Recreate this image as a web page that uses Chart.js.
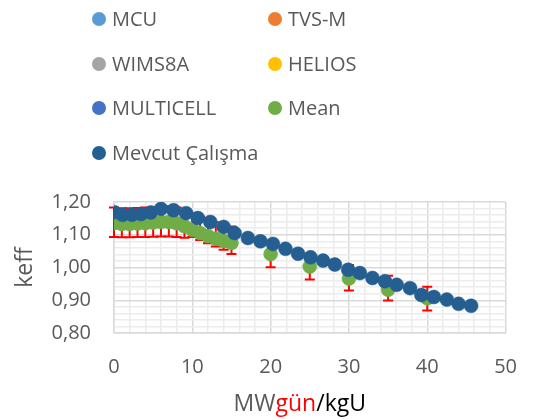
<!DOCTYPE html>
<html>
<head>
<meta charset="utf-8">
<script src="https://cdn.jsdelivr.net/npm/chart.js@4.4.1/dist/chart.umd.min.js"></script>
<style>
  html, body { margin: 0; padding: 0; background: #ffffff; }
  #wrap { position: relative; width: 539px; height: 419px; }
  #chart { position: absolute; left: 0; top: 0; }
  #legend { position: absolute; left: 0; top: 0; width: 539px; height: 180px;
            font-family: 'Open Sans', sans-serif; font-size: 20px; color: #595959; }
  .item { position: absolute; display: flex; align-items: center; height: 26px;
          line-height: 26px; white-space: nowrap; }
  .dot { width: 14px; height: 14px; border-radius: 50%; margin-right: 6px; flex: none; }
</style>
</head>
<body>
<div id="wrap">
  <canvas id="chart" width="539" height="419"></canvas>
  <div id="legend"></div>
</div>
<script>
// Series shown in the legend, in order
const seriesNames = ['MCU', 'TVS-M', 'WIMS8A', 'HELIOS', 'MULTICELL', 'Mean', 'Mevcut Çalışma'];
const seriesColors = ['#5B9BD5', '#ED7D31', '#A5A5A5', '#FFC000', '#4472C4', '#70AD47', '#255E91'];

// Benchmark mean k-eff with spread of the codes (burnup in MWgün/kgU)
const meanBurnup = [0, 1, 2, 3, 4, 5, 6, 7, 8, 9, 10, 11, 12, 13, 14, 15, 20, 25, 30, 35, 40];
const meanKeff   = [1.135, 1.133, 1.133, 1.134, 1.135, 1.137, 1.139, 1.139, 1.135, 1.126, 1.115,
                    1.105, 1.096, 1.088, 1.081, 1.075, 1.041, 1.003, 0.966, 0.932, 0.906];
const errPlus    = [0.048, 0.048, 0.048, 0.048, 0.048, 0.048, 0.048, 0.048, 0.048, 0.048, 0.050,
                    0.050, 0.050, 0.050, 0.050, 0.050, 0.040, 0.040, 0.042, 0.043, 0.035];
const errMinus   = [0.042, 0.041, 0.041, 0.041, 0.042, 0.043, 0.044, 0.044, 0.042, 0.035, 0.022,
                    0.021, 0.022, 0.024, 0.027, 0.034, 0.040, 0.040, 0.036, 0.033, 0.037];

// Present calculation
const calcBurnup = [0, 1.1, 2.3, 3.45, 4.7, 6.0, 7.6, 9.2, 10.7, 12.3, 14.0, 15.4, 17.1, 18.7, 20.3,
                    21.9, 23.5, 25.1, 26.7, 28.2, 29.9, 31.4, 33.0, 34.6, 36.1, 37.8, 39.25, 40.85,
                    42.5, 44.0, 45.6];
const calcKeff   = [1.169, 1.161, 1.161, 1.163, 1.168, 1.179, 1.175, 1.166, 1.151, 1.139, 1.124,
                    1.105, 1.090, 1.080, 1.072, 1.057, 1.042, 1.031, 1.021, 1.009, 0.993, 0.983,
                    0.968, 0.958, 0.947, 0.937, 0.916, 0.910, 0.902, 0.889, 0.883];

// Axis ranges and titles
const xMin = 0, xMax = 50, xMinorStep = 2, xMajorStep = 10;
const yMin = 0.8, yMax = 1.2, yMinorStep = 0.02;
const yTitle = 'keff';
const xTitleParts = [['MW', '#595959'], ['gün', '#FF0000'], ['/kgU', '#000000']];

const MAJOR = '#d9d9d9', MINOR = '#ececec', TEXT = '#595959';
const FONT = "'Open Sans', sans-serif";

const toPoints = (xs, ys) => xs.map((x, i) => ({ x: x, y: ys[i] }));
const isMajorY = v => Math.abs(v * 10 - Math.round(v * 10)) < 1e-6;
const isMajorX = v => Math.abs(v / xMajorStep - Math.round(v / xMajorStep)) < 1e-6;

const datasets = seriesNames.map((name, i) => ({
  label: name,
  data: [],
  backgroundColor: seriesColors[i],
  borderColor: seriesColors[i],
  pointRadius: 7,
  pointBorderWidth: 0.5,
  showLine: false,
  order: 5
}));
const MEAN = 5, CALC = 6;
datasets[MEAN].data = toPoints(meanBurnup, meanKeff);
datasets[MEAN].order = 1;
datasets[CALC].data = toPoints(calcBurnup, calcKeff);
datasets[CALC].order = 0;

// Red error bars of the mean, drawn just beneath its markers
const errorBars = {
  id: 'errorBars',
  beforeDatasetDraw(chart, args) {
    if (args.index !== MEAN) return;
    const { ctx, scales: { x, y } } = chart;
    ctx.save();
    ctx.strokeStyle = '#FF0000';
    ctx.lineWidth = 2;
    meanBurnup.forEach((b, i) => {
      const px = x.getPixelForValue(b);
      const hi = y.getPixelForValue(meanKeff[i] + errPlus[i]);
      const lo = y.getPixelForValue(meanKeff[i] - errMinus[i]);
      ctx.beginPath();
      ctx.moveTo(px, hi); ctx.lineTo(px, lo);
      ctx.moveTo(px - 5, hi); ctx.lineTo(px + 5, hi);
      ctx.moveTo(px - 5, lo); ctx.lineTo(px + 5, lo);
      ctx.stroke();
    });
    ctx.restore();
  }
};

// Multi-coloured x-axis title
const xAxisTitle = {
  id: 'xAxisTitle',
  afterDraw(chart) {
    const { ctx, chartArea } = chart;
    ctx.save();
    ctx.font = '23px ' + FONT;
    ctx.textBaseline = 'alphabetic';
    ctx.textAlign = 'left';
    const total = xTitleParts.reduce((s, p) => s + ctx.measureText(p[0]).width, 0);
    let cx = (chartArea.left + chartArea.right) / 2 - 10 - total / 2;
    xTitleParts.forEach(([t, c]) => {
      ctx.fillStyle = c;
      ctx.fillText(t, cx, 411);
      cx += ctx.measureText(t).width;
    });
    ctx.restore();
  }
};

const chart = new Chart(document.getElementById('chart'), {
  type: 'scatter',
  data: { datasets: datasets },
  plugins: [errorBars, xAxisTitle],
  options: {
    responsive: false,
    animation: false,
    layout: { padding: { top: 202, right: 19, left: 0, bottom: 0 } },
    plugins: { legend: { display: false }, tooltip: { enabled: false } },
    scales: {
      x: {
        type: 'linear', min: xMin, max: xMax,
        afterFit(scale) { scale.height = 86; },
        ticks: {
          stepSize: xMinorStep, autoSkip: false, maxRotation: 0, padding: 22,
          color: TEXT, font: { family: FONT, size: 20 },
          callback: v => isMajorX(v) ? String(Math.round(v)) : ''
        },
        grid: {
          drawTicks: false, lineWidth: 1.5,
          color: c => (c.tick && isMajorX(c.tick.value)) ? MAJOR : MINOR
        },
        border: { color: MAJOR, width: 1.5 }
      },
      y: {
        type: 'linear', min: yMin, max: yMax,
        afterFit(scale) { scale.width = 114; },
        ticks: {
          stepSize: yMinorStep, maxTicksLimit: 40, autoSkip: false, padding: 23,
          color: TEXT, font: { family: FONT, size: 20 },
          callback: v => isMajorY(v) ? v.toFixed(2).replace('.', ',') : ''
        },
        grid: {
          drawTicks: false, lineWidth: 1.5,
          color: c => (c.tick && isMajorY(c.tick.value)) ? MAJOR : MINOR
        },
        border: { color: MAJOR, width: 1.5 },
        title: {
          display: true, text: yTitle, color: TEXT,
          font: { family: FONT, size: 23 }, padding: { top: 12, bottom: 0 }
        }
      }
    }
  }
});

// Two-column legend built from the chart's datasets
const legendEl = document.getElementById('legend');
const colLeft = [92, 268];
const rowCenter = [19, 63.5, 108, 153];
chart.data.datasets.forEach((ds, i) => {
  const item = document.createElement('div');
  item.className = 'item';
  item.style.left = colLeft[i % 2] + 'px';
  item.style.top = (rowCenter[Math.floor(i / 2)] - 13) + 'px';
  const dot = document.createElement('span');
  dot.className = 'dot';
  dot.style.background = ds.backgroundColor;
  const txt = document.createElement('span');
  txt.textContent = ds.label;
  item.appendChild(dot);
  item.appendChild(txt);
  legendEl.appendChild(item);
});
</script>
</body>
</html>
